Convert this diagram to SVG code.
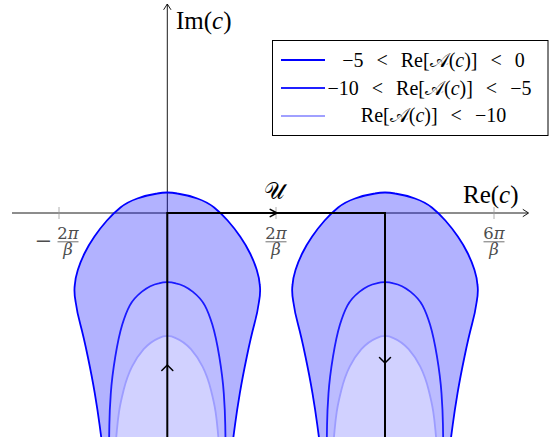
<svg xmlns="http://www.w3.org/2000/svg" width="554" height="437" viewBox="0 0 554 437">
<style>
.ax{stroke:#000;stroke-width:0.9;fill:none}
.tick{stroke:#999;stroke-width:0.8}
.tl{font-family:"DejaVu Serif","Liberation Serif",serif;font-size:16.5px;fill:#4d4d4d;text-anchor:middle}
.it{font-style:italic}
.bar{stroke:#4d4d4d;stroke-width:0.8}
.lab{font-family:"Liberation Serif","DejaVu Serif",serif;font-size:25px;fill:#000}
.outer{fill:#0000ff;fill-opacity:0.3;stroke:#0000ff;stroke-width:1.8}
.mid{fill:#bcbcff;stroke:#1a1aff;stroke-width:1.8}
.inn{fill:#d1d1ff;stroke:#9c9cff;stroke-width:1.8}
.ct{stroke:#000;stroke-width:2;fill:none}
.chev{stroke:#000;stroke-width:1.5;fill:none;stroke-linecap:round;stroke-linejoin:round}
.lg{font-family:"Liberation Serif","DejaVu Serif","DejaVu Sans",serif;font-size:20px;fill:#000;text-anchor:middle;word-spacing:8px}
.cal{font-family:"DejaVu Serif","DejaVu Sans","Liberation Serif",serif}
</style>
<defs>
<path id="outerShape" d="M-65.7,440 L-67.7,425 Q-69.7,410 -72.5,393.35 Q-75.3,376.7 -79.5,356.7 Q-83.7,336.7 -87,324.35 Q-90.3,312 -91.65,302 Q-93.5,292 -92.5,285 Q-92,278 -89.5,270 Q-87,262 -82.85,253.5 Q-78.7,245 -72.85,236.5 Q-67,228 -60.35,220.5 Q-53.7,213 -46.85,207.5 Q-40,202 -30,198.5 Q-20,195 -10,193.5 Q0,191.5 10,193.5 Q20,195 30,198.5 Q40,202 46.85,207.5 Q53.7,213 60.35,220.5 Q67,228 72.85,236.5 Q78.7,245 82.85,253.5 Q87,262 89.5,270 Q92,278 92.5,285 Q93.5,292 91.65,302 Q90.3,312 87,324.35 Q83.7,336.7 79.5,356.7 Q75.3,376.7 72.5,393.35 Q69.7,410 67.7,425 L65.7,440 Z"/>
<path id="midShape" d="M-58.2,440 L-57.95,425 Q-57.7,410 -56.5,393.35 Q-55.3,376.7 -52,356.7 Q-48.7,336.7 -45.1,324.85 Q-41.5,313 -37.6,305.65 Q-33.7,298.3 -25.35,291.65 Q-17,285 -8.5,283.35 Q0,281 8.5,283.35 Q17,285 25.35,291.65 Q33.7,298.3 37.6,305.65 Q41.5,313 45.1,324.85 Q48.7,336.7 52,356.7 Q55.3,376.7 56.5,393.35 Q57.7,410 57.95,425 L58.2,440 Z"/>
<path id="innShape" d="M-51.3,440 L-50.4,430 Q-49.5,420 -48.25,411.65 Q-47,403.3 -43.65,390 Q-40.3,376.7 -35.3,366.7 Q-30.3,356.7 -23.65,349.2 Q-17,341.7 -8.5,338.1 Q0,333.5 8.5,338.1 Q17,341.7 23.65,349.2 Q30.3,356.7 35.3,366.7 Q40.3,376.7 43.65,390 Q47,403.3 48.25,411.65 Q49.5,420 50.4,430 L51.3,440 Z"/>
</defs>
<rect width="554" height="437" fill="#fff"/>
<g id="axes">
<line class="ax" x1="12" y1="213" x2="528" y2="213"/>
<path class="ax" d="M522.8,209.3 L528.6,213 L522.8,216.7"/>
<line class="ax" x1="167.3" y1="437" x2="167.3" y2="4"/>
<path class="ax" d="M163.6,9.8 L167.3,4 L171,9.8"/>
<line class="tick" x1="59" y1="207" x2="59" y2="219"/>
<line class="tick" x1="276" y1="207" x2="276" y2="219"/>
<line class="tick" x1="494" y1="207" x2="494" y2="219"/>
</g>
<g id="region-left" transform="translate(167.3,0)">
<use href="#outerShape" class="outer"/>
<use href="#midShape" class="mid"/>
<use href="#innShape" class="inn"/>
</g>
<g id="region-right" transform="translate(385,0)">
<use href="#outerShape" class="outer"/>
<use href="#midShape" class="mid"/>
<use href="#innShape" class="inn"/>
</g>
<g id="connectors">
<path id="contour-U" class="ct" d="M167.3,437 V213 H385 V437"/>
<path class="chev" d="M270.2,209.3 L277,213 L270.2,216.7"/>
<path class="chev" d="M161.8,370.5 L167.3,365 L172.8,370.5"/>
<path class="chev" d="M379.5,357.5 L385,363 L390.5,357.5"/>
</g>
<g id="tick-labels">
<text class="tl" x="43.5" y="248" style="font-size:21px">−</text>
<text class="tl" x="68" y="239">2<tspan class="it">π</tspan></text>
<line class="bar" x1="57.5" y1="241.8" x2="78.5" y2="241.8"/>
<text class="tl it" x="68" y="255">β</text>
<text class="tl" x="276" y="239">2<tspan class="it">π</tspan></text>
<line class="bar" x1="265.5" y1="241.8" x2="286.5" y2="241.8"/>
<text class="tl it" x="276" y="255">β</text>
<text class="tl" x="494" y="239">6<tspan class="it">π</tspan></text>
<line class="bar" x1="483.5" y1="241.8" x2="504.5" y2="241.8"/>
<text class="tl it" x="494" y="255">β</text>
</g>
<g id="axis-labels">
<text class="lab" x="176" y="28.5">Im(<tspan font-style="italic">c</tspan>)</text>
<text class="lab" x="463" y="203">Re(<tspan font-style="italic">c</tspan>)</text>
<text class="lab cal" x="274.5" y="198.5" style="font-size:23px" text-anchor="middle">𝒰</text>
</g>
<g id="legend">
<rect x="272.5" y="40.5" width="275.5" height="95" fill="#fff" stroke="#000" stroke-width="1"/>
<line x1="281" y1="60" x2="325" y2="60" stroke="#0000ff" stroke-width="1.8"/>
<line x1="281" y1="88" x2="325" y2="88" stroke="#2020ff" stroke-width="1.8"/>
<line x1="281" y1="116" x2="325" y2="116" stroke="#a0a0ff" stroke-width="2"/>
<text class="lg" x="433.5" y="66.5">−5 &lt; Re[<tspan class="cal">𝒜</tspan>(<tspan font-style="italic">c</tspan>)] &lt; 0</text>
<text class="lg" x="429.5" y="94.5">−10 &lt; Re[<tspan class="cal">𝒜</tspan>(<tspan font-style="italic">c</tspan>)] &lt; −5</text>
<text class="lg" x="433.5" y="122">Re[<tspan class="cal">𝒜</tspan>(<tspan font-style="italic">c</tspan>)] &lt; −10</text>
</g>
</svg>
